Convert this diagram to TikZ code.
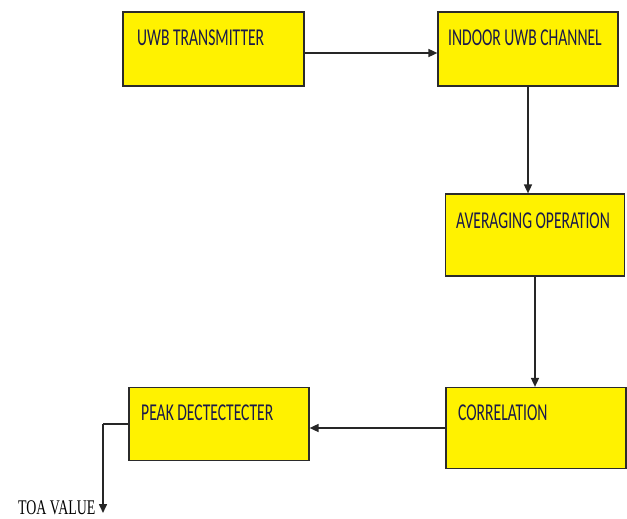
\documentclass[tikz,border=0pt]{standalone}
\usepackage{fontspec}
\setmainfont{Carlito}
\newfontfamily\toafont{Liberation Serif}
\usetikzlibrary{arrows.meta}
\definecolor{boxyellow}{HTML}{FFF200}
\definecolor{boxline}{HTML}{2B2B2B}
\definecolor{txtnavy}{HTML}{1A1A4A}
\begin{document}
\begin{tikzpicture}[x=1pt,y=-1pt,
  blk/.style={draw=boxline,fill=boxyellow,line width=1.2pt,inner sep=0pt,minimum width=#1},
  lbl/.style={anchor=west,inner sep=0pt,text=txtnavy,font=\fontsize{15.6}{18}\selectfont},
  arr/.style={draw=black!85,line width=1.6pt,-{Triangle[length=9pt,width=8pt]}},
  ln/.style={draw=black!85,line width=1.6pt}]
\useasboundingbox (0,0) rectangle (627,519);
\node[blk=181pt,minimum height=74pt] (tx) at (213.5,49) {};
\node[blk=180pt,minimum height=74pt] (ch) at (528,49) {};
\node[blk=179pt,minimum height=82pt] (av) at (535,235) {};
\node[blk=180pt,minimum height=81pt] (cor) at (536,428) {};
\node[blk=180pt,minimum height=73pt] (pk) at (219,424) {};
\node[lbl] (ttx) at (137,38) {\scalebox{1}[1.55]{UWB TRANSMITTER}};
\node[lbl] (tch) at (448,38) {\scalebox{1}[1.55]{INDOOR UWB CHANNEL}};
\node[lbl] (tav) at (456,221) {\scalebox{1}[1.55]{AVERAGING OPERATION}};
\node[lbl] (tcor) at (458,413) {\scalebox{1}[1.55]{CORRELATION}};
\node[lbl] (tpk) at (141,413) {\scalebox{1}[1.55]{PEAK DECTECTECTER}};
\coordinate (bend) at (103,424);
\coordinate (out) at (103,513);
\node[anchor=base east,inner sep=0pt,font=\toafont\fontsize{13.9}{16}\selectfont] (toa) at (95.5,514.5) {\scalebox{1}[1.5]{TOA VALUE}};
\draw[arr] ([yshift=-4pt]tx.east) -- ([yshift=-4pt]ch.west);
\draw[arr] (ch.south) -- (ch.south |- av.north);
\draw[arr] (av.south) -- (av.south |- cor.north);
\draw[arr] (cor.west) -- (cor.west -| pk.east);
\draw[ln] (pk.west) -- (bend);
\draw[arr] (bend) -- (out);
\end{tikzpicture}
\end{document}
